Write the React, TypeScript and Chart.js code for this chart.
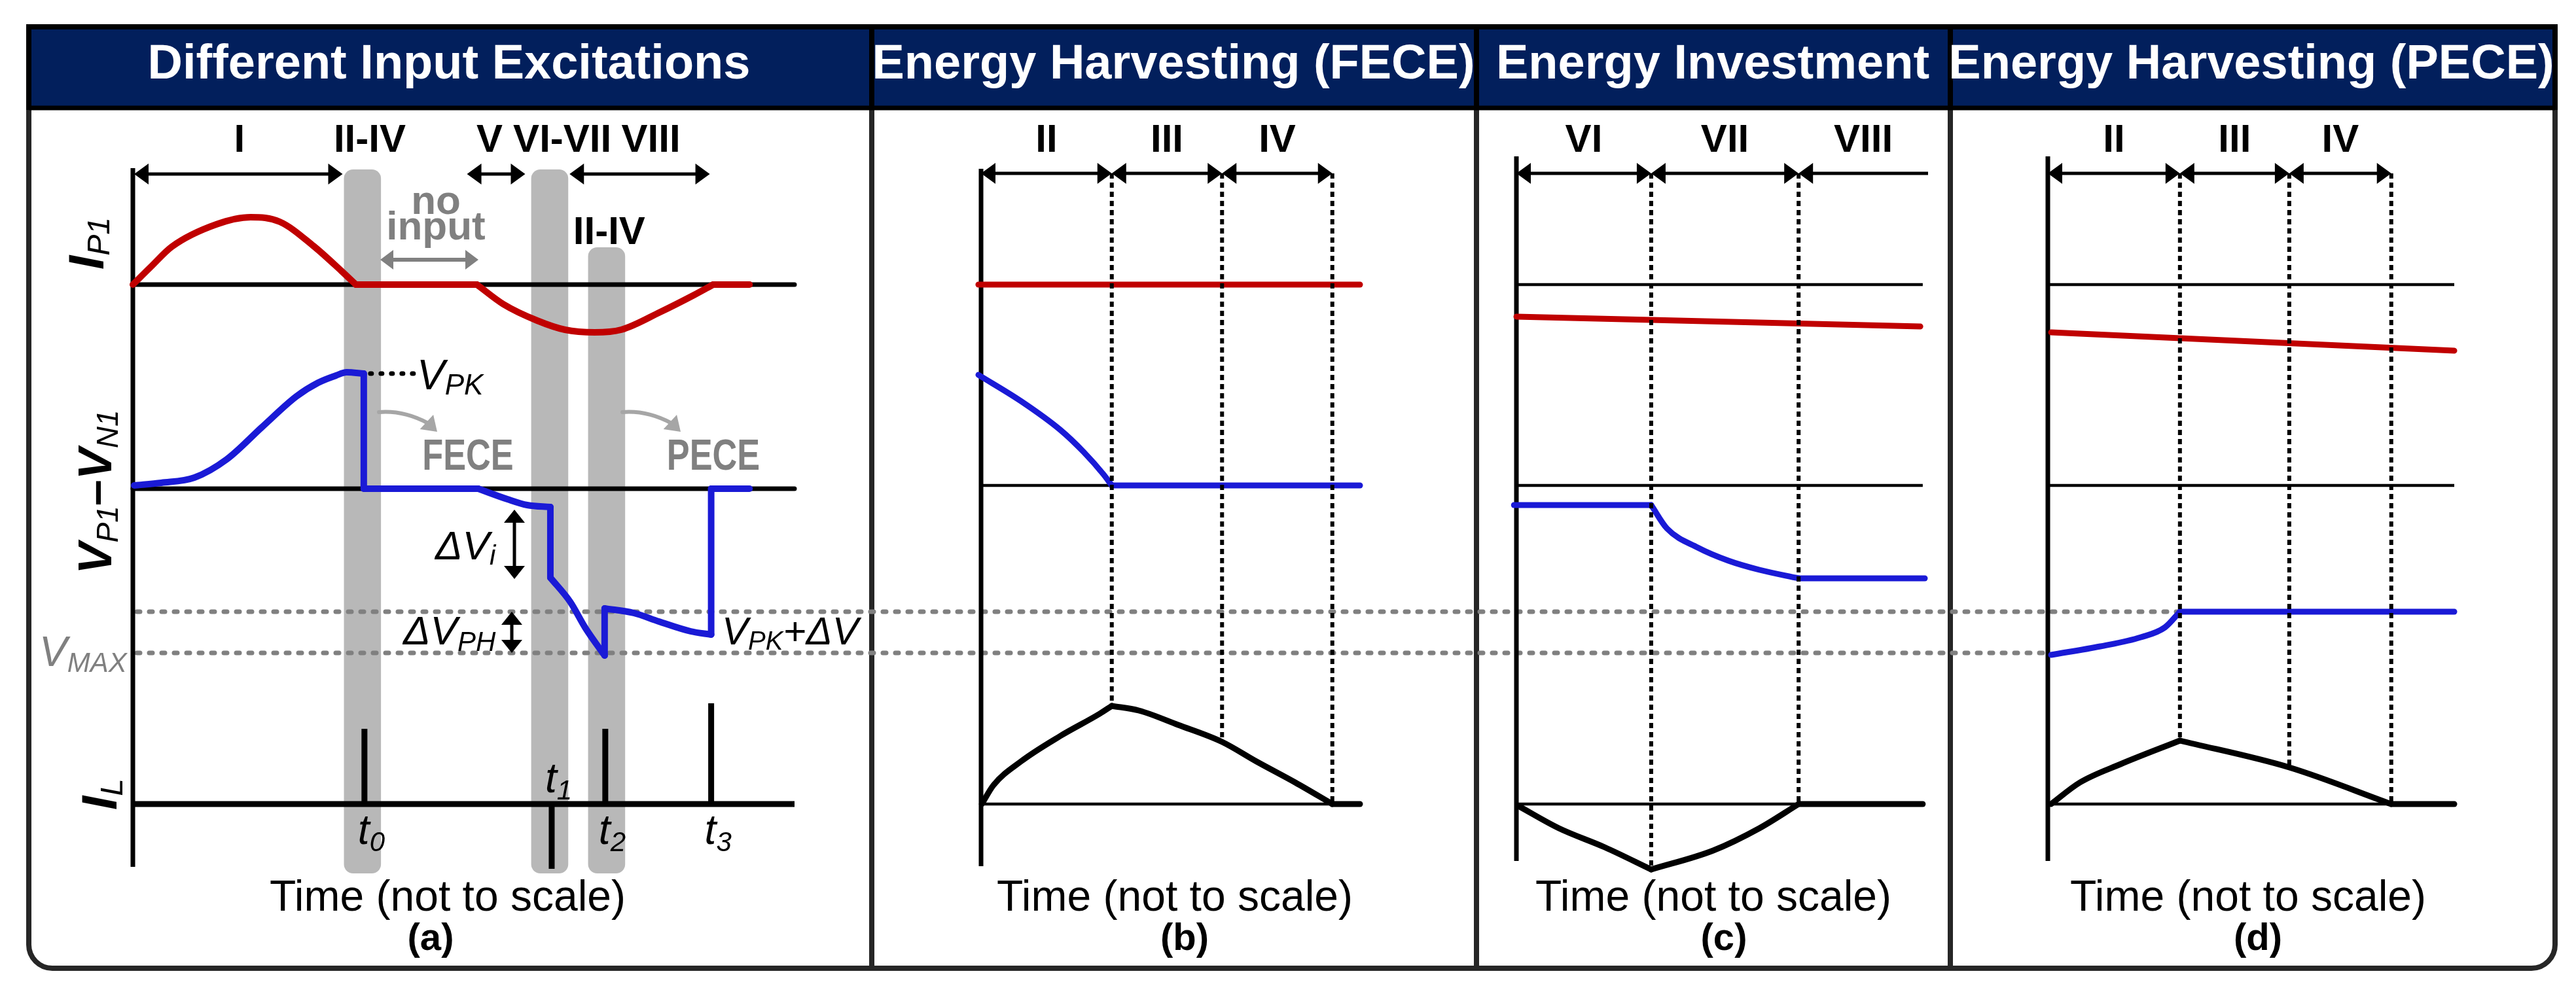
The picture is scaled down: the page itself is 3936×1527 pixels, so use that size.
import React, { useEffect, useRef } from "react";
import { Chart, registerables } from "chart.js";

Chart.register(...registerables);

const W = 3936;
const H = 1527;

/* ====================== DATA ====================== */
// time: arbitrary units (0 = vertical axis of each panel); signals: arbitrary units

// zero levels of the three stacked traces
const LEVEL_IP1 = 90.5;
const LEVEL_V_A = 59.3;
const LEVEL_V = 59.8;
const LEVEL_IL = 11.1;
// reference voltages (relative to the V zero level)
const V_PK_PLUS_DV = -18.8;
const V_MAX_REF = -25.1;

// ---- Panel (a): different input excitations ----
const A_TIME_IP1 = [0, 2.7, 5.9, 12.6, 17.8, 22.2, 27.3, 31.5, 33.7, 52.0, 56.0, 61.1, 65.3, 69.8, 73.8, 79.7, 84.8, 87.7, 93.2];
const A_IP1 = [0, 2.7, 5.8, 9.2, 10.3, 9.6, 5.9, 2.1, 0, 0, -3.0, -5.5, -6.9, -7.3, -6.9, -4.2, -1.6, 0, 0];
const A_IP1_CORNERS = [8, 9, 17];

const A_TIME_V = [0.2, 4.3, 9.3, 14.2, 19.5, 24.7, 28.0, 30.7, 32.3, 34.9, 34.9, 52.2, 56.6, 59.6, 63.1, 63.1, 66.1, 68.4, 71.3, 71.3, 75.7, 79.5, 84.3, 87.4, 87.4, 93.2];
const A_V = [0.5, 0.9, 1.7, 4.5, 9.4, 14.1, 16.2, 17.3, 17.8, 17.6, 0, 0, -1.6, -2.5, -2.8, -13.6, -17.3, -21.3, -25.5, -18.3, -19.0, -20.3, -21.8, -22.3, 0, 0];
const A_V_CORNERS = [9, 10, 11, 14, 15, 18, 19, 23, 24];

const A_TIME_IL = [0, 35.0, 35.0, 35.0, 63.3, 63.3, 63.3, 71.4, 71.4, 71.4, 87.4, 87.4, 87.4, 100];
const A_IL = [0, 0, 11.5, 0, 0, -9.9, 0, 0, 11.5, 0, 0, 15.4, 0, 0];

const A_PHASE_LABELS = ["I", "II-IV", "V", "VI-VII", "VIII"];
const A_PHASE_LABEL_T = [16.1, 35.8, 53.9, 64.9, 78.3];
const A_PHASE_SPANS = [[0.2, 31.7], [50.5, 59.3], [66.0, 87.2]];
const A_EVENT_T = [35.0, 63.3, 71.4, 87.4];
const A_EVENT_SUB = ["0", "1", "2", "3"];
const A_CONDUCTION_T = [34.7, 63.0, 71.6];
const A_CONDUCTION_TOP = [108.1, 108.1, 96.2];

// ---- Panel (b): energy harvesting (FECE) ----
const B_TIME_IP1 = [-0.7, 100];
const B_IP1 = [0, 0];
const B_TIME_V = [-0.7, 10.5, 20.9, 27.1, 32.3, 34.5, 100];
const B_V = [16.9, 12.9, 8.5, 5.1, 1.7, 0, 0];
const B_V_CORNERS = [5];
const B_TIME_IL = [0.2, 3.3, 10.5, 20.9, 31.3, 34.5, 41.6, 52.0, 63.6, 72.7, 82.9, 92.7, 100];
const B_IL = [0, 2.9, 6.5, 10.4, 13.8, 15.0, 14.3, 12.1, 9.5, 6.5, 3.3, 0, 0];
const B_IL_CORNERS = [5, 11];
const B_PHASES = [0, 34.5, 63.6, 92.7];
const B_PHASE_LABELS = ["II", "III", "IV"];

// ---- Panel (c): energy investment ----
const C_TIME_IP1 = [0, 98.9];
const C_IP1 = [-4.9, -6.4];
const C_TIME_V = [-0.6, 33.0, 36.9, 44.4, 51.9, 59.5, 69.1, 100];
const C_V = [-3.0, -3.0, -6.6, -9.5, -11.5, -12.9, -14.2, -14.2];
const C_V_CORNERS = [1, 6];
const C_TIME_IL = [0.5, 10.4, 21.6, 33.0, 48.2, 59.5, 69.1, 99.5];
const C_IL = [-0.3, -3.7, -6.6, -10.0, -7.1, -3.7, 0, 0];
const C_IL_CORNERS = [3, 6];
const C_PHASES = [0, 33.0, 69.1, 100.8];
const C_PHASE_LABELS = ["VI", "VII", "VIII"];

// ---- Panel (d): energy harvesting (PECE) ----
const D_TIME_IP1 = [0.8, 100];
const D_IP1 = [-7.3, -10.1];
const D_TIME_V = [0.8, 12.9, 22.9, 28.8, 32.5, 100];
const D_V = [-25.9, -24.6, -23.2, -21.7, -19.3, -19.3];
const D_V_CORNERS = [4];
const D_TIME_IL = [0.8, 7.9, 17.9, 32.5, 59.4, 84.5, 100];
const D_IL = [0, 3.3, 6.1, 9.7, 5.6, 0, 0];
const D_IL_CORNERS = [3, 5];
const D_PHASES = [0, 32.5, 59.4, 84.5];
const D_PHASE_LABELS = ["II", "III", "IV"];

const HEADERS = ["Different Input Excitations", "Energy Harvesting (FECE)", "Energy Investment", "Energy Harvesting (PECE)"];
const PANEL_LETTERS = ["(a)", "(b)", "(c)", "(d)"];

/* ====================== STYLE / LAYOUT ====================== */
const RED = "#C00000";
const BLUE = "#1A1AD6";
const NAVY = "#021F5C";
const FRAME = "#262626";
const GRAY_BAR = "#B8B8B8";
const GRAY_TXT = "#808080";
const GRAY_ARROW = "#A6A6A6";
const FONT = '"Liberation Sans", Arial, Helvetica, sans-serif';
const f = (size: number, weight = "normal", style = "normal") => `${style} ${weight} ${size}px ${FONT}`;

const Y_TOP_PX = 240;
const Y_BOT_PX = 1340;
const HEADER_CX = [686, 1793, 2617, 3440];
const TIME_CX = [684, 1795, 2618, 3435];
const LETTER_CX = [658, 1810, 2634, 3450];
const DIVIDERS = [1332, 2256, 2980];

type XY = (v: number) => number;
type Ctx = CanvasRenderingContext2D;
type Run = { t: string; font: string; dy?: number };

/* ====================== helpers ====================== */
function trace(t: number[], v: number[], base: number, corners: number[], color: string, width: number, join: CanvasLineJoin = "round") {
  const cuts = [0, ...corners, t.length - 1];
  const out: any[] = [];
  for (let i = 0; i < cuts.length - 1; i++) {
    const a = cuts[i];
    const b = cuts[i + 1];
    if (b <= a) continue;
    const data: { x: number; y: number }[] = [];
    for (let j = a; j <= b; j++) data.push({ x: t[j], y: base + v[j] });
    out.push({
      data,
      borderColor: color,
      backgroundColor: color,
      borderWidth: width,
      pointRadius: 0,
      pointHoverRadius: 0,
      cubicInterpolationMode: "monotone",
      borderCapStyle: join === "round" ? "round" : "butt",
      borderJoinStyle: join,
      fill: false,
      clip: false,
    });
  }
  return out;
}

function valueAt(ts: number[], vs: number[], t: number) {
  for (let i = 0; i < ts.length - 1; i++) {
    if (t >= ts[i] && t <= ts[i + 1]) {
      const d = ts[i + 1] - ts[i];
      return d === 0 ? vs[i + 1] : vs[i] + ((vs[i + 1] - vs[i]) * (t - ts[i])) / d;
    }
  }
  return vs[vs.length - 1];
}

function line(ctx: Ctx, x1: number, y1: number, x2: number, y2: number, w: number, color: string, dash: number[] = [], cap: CanvasLineCap = "butt") {
  ctx.save();
  ctx.strokeStyle = color;
  ctx.lineWidth = w;
  ctx.lineCap = cap;
  ctx.setLineDash(dash);
  ctx.beginPath();
  ctx.moveTo(x1, y1);
  ctx.lineTo(x2, y2);
  ctx.stroke();
  ctx.restore();
}

function head(ctx: Ctx, x: number, y: number, ang: number, len: number, half: number) {
  const c = Math.cos(ang);
  const s = Math.sin(ang);
  ctx.beginPath();
  ctx.moveTo(x, y);
  ctx.lineTo(x - len * c - half * s, y - len * s + half * c);
  ctx.lineTo(x - len * c + half * s, y - len * s - half * c);
  ctx.closePath();
  ctx.fill();
}

function arrow(ctx: Ctx, x1: number, y1: number, x2: number, y2: number, o: { s?: boolean; e?: boolean; color?: string; w?: number; len?: number; half?: number } = {}) {
  const { s = true, e = true, color = "#000", w = 5, len = 22, half = 16 } = o;
  const ang = Math.atan2(y2 - y1, x2 - x1);
  const c = Math.cos(ang);
  const sn = Math.sin(ang);
  ctx.save();
  ctx.strokeStyle = color;
  ctx.fillStyle = color;
  ctx.lineWidth = w;
  ctx.beginPath();
  const a = s ? len * 0.8 : 0;
  const b = e ? len * 0.8 : 0;
  ctx.moveTo(x1 + a * c, y1 + a * sn);
  ctx.lineTo(x2 - b * c, y2 - b * sn);
  ctx.stroke();
  if (e) head(ctx, x2, y2, ang, len, half);
  if (s) head(ctx, x1, y1, ang + Math.PI, len, half);
  ctx.restore();
}

function runsWidth(ctx: Ctx, runs: Run[]) {
  let w = 0;
  for (const r of runs) {
    ctx.font = r.font;
    w += ctx.measureText(r.t).width;
  }
  return w;
}

function drawRuns(ctx: Ctx, runs: Run[], x: number, y: number, align: "left" | "center" = "left", color = "#000") {
  ctx.save();
  ctx.fillStyle = color;
  ctx.textAlign = "left";
  ctx.textBaseline = "alphabetic";
  let cx = align === "center" ? x - runsWidth(ctx, runs) / 2 : x;
  for (const r of runs) {
    ctx.font = r.font;
    ctx.fillText(r.t, cx, y + (r.dy || 0));
    cx += ctx.measureText(r.t).width;
  }
  ctx.restore();
}

function vertLabel(ctx: Ctx, runs: Run[], baselineX: number, cy: number) {
  ctx.save();
  ctx.translate(baselineX, cy);
  ctx.rotate(-Math.PI / 2);
  drawRuns(ctx, runs, 0, 0, "center");
  ctx.restore();
}

function text(ctx: Ctx, s: string, x: number, y: number, font: string, color = "#000", align: CanvasTextAlign = "center", sx = 1) {
  ctx.save();
  ctx.translate(x, y);
  ctx.scale(sx, 1);
  ctx.font = font;
  ctx.fillStyle = color;
  ctx.textAlign = align;
  ctx.textBaseline = "alphabetic";
  ctx.fillText(s, 0, 0);
  ctx.restore();
}

function roundRect(ctx: Ctx, l: number, t: number, r: number, b: number, rad: number) {
  ctx.beginPath();
  ctx.moveTo(l + rad, t);
  ctx.arcTo(r, t, r, b, rad);
  ctx.arcTo(r, b, l, b, rad);
  ctx.arcTo(l, b, l, t, rad);
  ctx.arcTo(l, t, r, t, rad);
  ctx.closePath();
}

function curvedArrow(ctx: Ctx, x0: number, y0: number) {
  ctx.save();
  ctx.strokeStyle = GRAY_ARROW;
  ctx.fillStyle = GRAY_ARROW;
  ctx.lineWidth = 6;
  ctx.lineCap = "round";
  ctx.beginPath();
  ctx.moveTo(x0, y0);
  ctx.quadraticCurveTo(x0 + 38, y0 - 3, x0 + 75, y0 + 17);
  ctx.stroke();
  head(ctx, x0 + 89, y0 + 30, Math.atan2(13, 14), 22, 15);
  ctx.restore();
}

function frame(ctx: Ctx) {
  ctx.save();
  ctx.fillStyle = "#fff";
  ctx.fillRect(0, 0, W, H);
  // outer rounded frame
  const l = 44, t = 41, r = 3904, b = 1480;
  ctx.beginPath();
  ctx.moveTo(l, t);
  ctx.lineTo(r - 6, t);
  ctx.arcTo(r, t, r, t + 6, 6);
  ctx.lineTo(r, b - 36);
  ctx.arcTo(r, b, r - 36, b, 36);
  ctx.lineTo(l + 36, b);
  ctx.arcTo(l, b, l, b - 36, 36);
  ctx.closePath();
  ctx.lineWidth = 8;
  ctx.strokeStyle = FRAME;
  ctx.stroke();
  // panel dividers
  DIVIDERS.forEach((x) => line(ctx, x, t, x, b, 8, FRAME));
  // header bar
  ctx.fillStyle = NAVY;
  ctx.fillRect(l, t, r - l, 124);
  line(ctx, l - 4, t, r + 4, t, 8, "#000");
  line(ctx, l, 165, r, 165, 7, "#000");
  [l, r, ...DIVIDERS].forEach((x) => line(ctx, x, 37, x, 168, 8, "#000"));
  HEADERS.forEach((h, i) => text(ctx, h, HEADER_CX[i], 120, f(74, "bold"), "#fff"));
  ctx.restore();
}

function bottomLabels(ctx: Ctx, i: number) {
  text(ctx, "Time (not to scale)", TIME_CX[i], 1392, f(66));
  text(ctx, PANEL_LETTERS[i], LETTER_CX[i], 1452, f(58, "bold"));
}

function baseLayer(ctx: Ctx, X: XY, Y: XY, axisTop: number, axisBot: number, end: number) {
  [LEVEL_IP1, LEVEL_V, LEVEL_IL].forEach((lv) => line(ctx, X(0), Y(lv), X(end), Y(lv), 4.5, "#000"));
  line(ctx, X(0), axisTop, X(0), axisBot, 7, "#000");
}

function phaseLayer(ctx: Ctx, X: XY, Y: XY, phases: number[], labels: string[], openEnd: boolean, ilT: number[], ilV: number[]) {
  const yA = 265;
  for (let i = 1; i < phases.length; i++) {
    if (openEnd && i === phases.length - 1) continue;
    const t = phases[i];
    const yEnd = Y(LEVEL_IL + valueAt(ilT, ilV, t));
    line(ctx, X(t), yA, X(t), yEnd, 6, "#000", [8, 6]);
  }
  for (let i = 0; i < labels.length; i++) {
    const a = phases[i];
    const b = phases[i + 1];
    const last = i === labels.length - 1;
    arrow(ctx, X(a), yA, X(b), yA, { e: !(openEnd && last) });
    text(ctx, labels[i], X((a + b) / 2), 232, f(60, "bold"));
  }
}

/* ====================== panels ====================== */
type PanelCfg = {
  x0: number;
  k: number;
  datasets: any[];
  frame?: boolean;
  under?: (ctx: Ctx, X: XY, Y: XY) => void;
  over?: (ctx: Ctx, X: XY, Y: XY) => void;
};

const PANELS: PanelCfg[] = [
  {
    x0: 203,
    k: 10.11,
    frame: true,
    datasets: [
      ...trace(A_TIME_V, A_V, LEVEL_V_A, A_V_CORNERS, BLUE, 10),
      ...trace(A_TIME_IP1, A_IP1, LEVEL_IP1, A_IP1_CORNERS, RED, 10),
      ...trace(A_TIME_IL, A_IL, LEVEL_IL, [], "#000", 9, "miter"),
    ],
    under(ctx, X, Y) {
      ctx.save();
      ctx.fillStyle = GRAY_BAR;
      A_CONDUCTION_T.forEach((t, i) => {
        roundRect(ctx, X(t - 2.8), Y(A_CONDUCTION_TOP[i]), X(t + 2.8), Y(0.5), 14);
        ctx.fill();
      });
      ctx.restore();
      const yPk = Y(LEVEL_V_A + V_PK_PLUS_DV);
      const yMax = Y(LEVEL_V_A + V_MAX_REF);
      line(ctx, 209, yPk, 3330, yPk, 7, GRAY_TXT, [5, 14], "round");
      line(ctx, 209, yMax, 3134, yMax, 7, GRAY_TXT, [5, 14], "round");
      line(ctx, X(0), Y(LEVEL_IP1), X(100), Y(LEVEL_IP1), 7, "#000", [], "round");
      line(ctx, X(0), Y(LEVEL_V_A), X(100), Y(LEVEL_V_A), 7, "#000", [], "round");
      line(ctx, X(0), 257, X(0), 1325, 7, "#000");
    },
    over(ctx, X, Y) {
      // phases
      A_PHASE_SPANS.forEach(([a, b]) => arrow(ctx, X(a), 266, X(b), 266));
      A_PHASE_LABELS.forEach((s, i) => text(ctx, s, X(A_PHASE_LABEL_T[i]), 232, f(60, "bold")));
      text(ctx, "II-IV", X(A_CONDUCTION_T[2]) + 4, 373, f(60, "bold"));
      // no input
      text(ctx, "no", 666, 327, f(62, "bold"), GRAY_TXT);
      text(ctx, "input", 666, 366, f(62, "bold"), GRAY_TXT);
      arrow(ctx, 581, 397, 731, 397, { color: GRAY_TXT, w: 6, len: 20, half: 15 });
      // V_PK
      const yPkLevel = Y(LEVEL_V_A + A_V[9]);
      line(ctx, X(A_TIME_V[9]) + 10, yPkLevel, 632, yPkLevel, 7, "#000", [2, 14], "round");
      drawRuns(ctx, [{ t: "V", font: f(64, "normal", "italic") }, { t: "PK", font: f(44, "normal", "italic"), dy: 8 }], 637, 595);
      // FECE / PECE
      curvedArrow(ctx, 579, 630);
      curvedArrow(ctx, 951, 630);
      text(ctx, "FECE", 715, 718, f(67, "bold"), GRAY_TXT, "center", 0.78);
      text(ctx, "PECE", 1090, 718, f(67, "bold"), GRAY_TXT, "center", 0.78);
      // delta V arrows
      arrow(ctx, 786, Y(LEVEL_V_A + A_V[14]) + 4, 786, Y(LEVEL_V_A + A_V[15]) + 2, { w: 5, len: 20, half: 16 });
      drawRuns(ctx, [{ t: "ΔV", font: f(62, "normal", "italic") }, { t: "i", font: f(42, "normal", "italic"), dy: 8 }], 665, 855);
      const yPk = Y(LEVEL_V_A + V_PK_PLUS_DV);
      const yMax = Y(LEVEL_V_A + V_MAX_REF);
      arrow(ctx, 782, yPk, 782, yMax, { w: 5, len: 20, half: 16 });
      drawRuns(ctx, [{ t: "ΔV", font: f(62, "normal", "italic") }, { t: "PH", font: f(42, "normal", "italic"), dy: 10 }], 616, 985);
      drawRuns(
        ctx,
        [
          { t: "V", font: f(60, "normal", "italic") },
          { t: "PK", font: f(40, "normal", "italic"), dy: 8 },
          { t: "+ΔV", font: f(60, "normal", "italic") },
        ],
        1103,
        985
      );
      drawRuns(ctx, [{ t: "V", font: f(64, "normal", "italic") }, { t: "MAX", font: f(42, "normal", "italic"), dy: 9 }], 60, 1018, "left", GRAY_TXT);
      // event times
      A_EVENT_T.forEach((t, i) => {
        const yb = i === 1 ? 1211 : 1290;
        drawRuns(ctx, [{ t: "t", font: f(64, "normal", "italic") }, { t: A_EVENT_SUB[i], font: f(42, "normal", "italic"), dy: 11 }], X(t) - 10, yb);
      });
      // axis labels
      vertLabel(ctx, [{ t: "I", font: f(76, "bold", "italic") }, { t: "P1", font: f(48, "normal", "italic"), dy: 9 }], 158, 372);
      vertLabel(
        ctx,
        [
          { t: "V", font: f(72, "bold", "italic") },
          { t: "P1", font: f(46, "normal", "italic"), dy: 10 },
          { t: "–", font: f(72, "bold") },
          { t: "V", font: f(72, "bold", "italic") },
          { t: "N1", font: f(46, "normal", "italic"), dy: 10 },
        ],
        170,
        752
      );
      vertLabel(ctx, [{ t: "I", font: f(76, "bold", "italic") }, { t: "L", font: f(48, "normal", "italic"), dy: 9 }], 178, 1214);
      bottomLabels(ctx, 0);
    },
  },
  {
    x0: 1499,
    k: 5.79,
    datasets: [
      ...trace(B_TIME_IP1, B_IP1, LEVEL_IP1, [], RED, 9),
      ...trace(B_TIME_V, B_V, LEVEL_V, B_V_CORNERS, BLUE, 9),
      ...trace(B_TIME_IL, B_IL, LEVEL_IL, B_IL_CORNERS, "#000", 9),
    ],
    under(ctx, X, Y) {
      baseLayer(ctx, X, Y, 258, 1324, 100);
    },
    over(ctx, X, Y) {
      phaseLayer(ctx, X, Y, B_PHASES, B_PHASE_LABELS, false, B_TIME_IL, B_IL);
      bottomLabels(ctx, 1);
    },
  },
  {
    x0: 2317,
    k: 6.24,
    datasets: [
      ...trace(C_TIME_IP1, C_IP1, LEVEL_IP1, [], RED, 9),
      ...trace(C_TIME_V, C_V, LEVEL_V, C_V_CORNERS, BLUE, 9),
      ...trace(C_TIME_IL, C_IL, LEVEL_IL, C_IL_CORNERS, "#000", 9),
    ],
    under(ctx, X, Y) {
      baseLayer(ctx, X, Y, 239, 1316, 99.5);
    },
    over(ctx, X, Y) {
      phaseLayer(ctx, X, Y, C_PHASES, C_PHASE_LABELS, true, C_TIME_IL, C_IL);
      bottomLabels(ctx, 2);
    },
  },
  {
    x0: 3129,
    k: 6.21,
    datasets: [
      ...trace(D_TIME_IP1, D_IP1, LEVEL_IP1, [], RED, 9),
      ...trace(D_TIME_V, D_V, LEVEL_V, D_V_CORNERS, BLUE, 9),
      ...trace(D_TIME_IL, D_IL, LEVEL_IL, D_IL_CORNERS, "#000", 9),
    ],
    under(ctx, X, Y) {
      baseLayer(ctx, X, Y, 239, 1316, 100);
    },
    over(ctx, X, Y) {
      phaseLayer(ctx, X, Y, D_PHASES, D_PHASE_LABELS, false, D_TIME_IL, D_IL);
      bottomLabels(ctx, 3);
    },
  },
];

function buildConfig(cfg: PanelCfg, idx: number): any {
  const getXY = (chart: any) => {
    const X: XY = (v) => chart.scales.x.getPixelForValue(v);
    const Y: XY = (v) => chart.scales.y.getPixelForValue(v);
    return { X, Y };
  };
  return {
    type: "line",
    data: { datasets: cfg.datasets },
    options: {
      animation: false,
      responsive: false,
      maintainAspectRatio: false,
      events: [],
      layout: {
        padding: {
          left: cfg.x0 - 2 * cfg.k,
          right: W - (cfg.x0 + 102 * cfg.k),
          top: Y_TOP_PX,
          bottom: H - Y_BOT_PX,
        },
      },
      scales: {
        x: { type: "linear", min: -2, max: 102, display: false },
        y: { type: "linear", min: 0, max: 110, display: false },
      },
      plugins: { legend: { display: false }, tooltip: { enabled: false } },
    },
    plugins: [
      {
        id: "deco" + idx,
        beforeDraw(chart: any) {
          if (cfg.frame) frame(chart.ctx);
        },
        beforeDatasetsDraw(chart: any) {
          const { X, Y } = getXY(chart);
          cfg.under && cfg.under(chart.ctx, X, Y);
        },
        afterDatasetsDraw(chart: any) {
          const { X, Y } = getXY(chart);
          cfg.over && cfg.over(chart.ctx, X, Y);
        },
      },
    ],
  };
}

function Panel({ cfg, idx }: { cfg: PanelCfg; idx: number }) {
  const ref = useRef<HTMLCanvasElement>(null);
  useEffect(() => {
    const chart = new Chart(ref.current as HTMLCanvasElement, buildConfig(cfg, idx));
    return () => chart.destroy();
  }, [cfg, idx]);
  return (
    <canvas
      ref={ref}
      width={W}
      height={H}
      style={{ position: "absolute", left: 0, top: 0, width: W, height: H, zIndex: idx }}
    />
  );
}

export default function App() {
  return (
    <div style={{ position: "fixed", left: 0, top: 0, width: W, height: H, overflow: "hidden", background: "#fff" }}>
      {PANELS.map((p, i) => (
        <Panel key={i} cfg={p} idx={i} />
      ))}
    </div>
  );
}
